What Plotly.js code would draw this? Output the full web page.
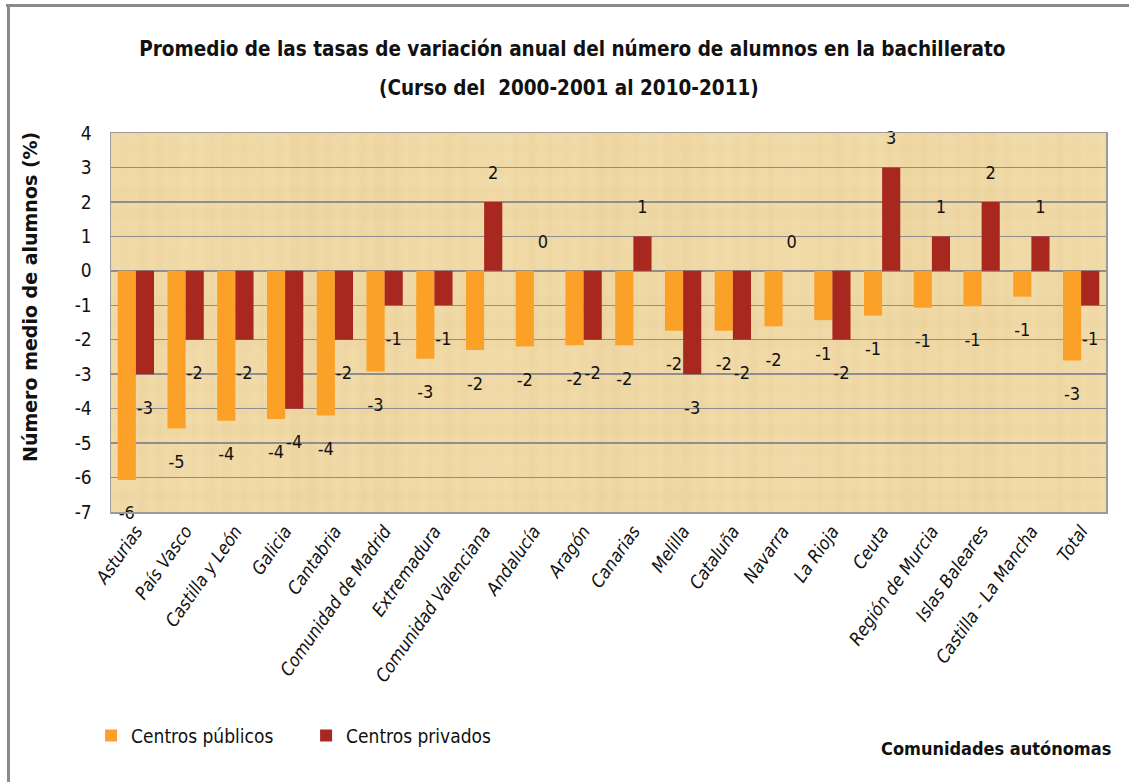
<!DOCTYPE html>
<html>
<head>
<meta charset="utf-8">
<script src="https://cdn.plot.ly/plotly-3.0.1.min.js"></script>
<style>
  html, body { margin: 0; padding: 0; background: #fff; }
  #wrap { position: relative; width: 1129px; height: 782px; overflow: hidden; }
  #chart { position: absolute; left: 0; top: 0; width: 1129px; height: 782px; }
  #btop { position: absolute; left: 6px; top: 4px; width: 1123px; height: 3px; background: #8a8a8a; }
  #bleft { position: absolute; left: 7px; top: 4px; width: 3px; height: 778px; background: #8a8a8a; }
</style>
</head>
<body>
<div id="wrap">
  <div id="chart"></div>
  <div id="btop"></div>
  <div id="bleft"></div>
</div>
<script>
// ---- data ----
const categories = ["Asturias", "País Vasco", "Castilla y León", "Galicia", "Cantabria",
  "Comunidad de Madrid", "Extremadura", "Comunidad Valenciana", "Andalucía", "Aragón",
  "Canarias", "Melilla", "Cataluña", "Navarra", "La Rioja", "Ceuta", "Región de Murcia",
  "Islas Baleares", "Castilla - La Mancha", "Total"];
const publicos = [-6.07, -4.58, -4.35, -4.30, -4.20, -2.92, -2.55, -2.30, -2.20, -2.16,
  -2.16, -1.74, -1.74, -1.61, -1.43, -1.30, -1.07, -1.03, -0.75, -2.60];
const privados = [-3.0, -2.0, -2.0, -4.0, -2.0, -1.0, -1.0, 2.0, 0.0, -2.0,
  1.0, -3.0, -2.0, 0.0, -2.0, 3.0, 1.0, 2.0, 1.0, -1.0];
const yTicks = [-7, -6, -5, -4, -3, -2, -1, 0, 1, 2, 3, 4];
const seriesNames = ["Centros públicos", "Centros privados"];
const titleLine1 = "Promedio de las tasas de variación anual del número de alumnos en la bachillerato";
const titleLine2 = "(Curso del  2000-2001 al 2010-2011)";
const yTitle = "Número medio de alumnos (%)";
const xTitle = "Comunidades autónomas";

const roundLabel = vals => vals.map(v => String(Math.round(v) === 0 ? 0 : Math.round(v)));
const labelPos = vals => vals.map(v => v < 0 ? 'bottom center' : 'top center');
const labelGap = vals => vals.map(v => v < 0 ? 40 : 28);

// ---- papyrus-like background texture (deterministic) ----
function makeTexture(w, h) {
  const c = document.createElement('canvas');
  c.width = w; c.height = h;
  const g = c.getContext('2d');
  g.fillStyle = '#F0D9A6';
  g.fillRect(0, 0, w, h);
  for (let x = 0; x < w; x += 3) {
    const v = Math.sin(x * 0.37) * 0.5 + Math.sin(x * 0.083 + 1.3) * 0.35 + Math.sin(x * 0.021) * 0.3;
    const a = Math.abs(v) * 0.09;
    g.fillStyle = v > 0 ? 'rgba(255,242,205,' + a + ')' : 'rgba(210,178,110,' + a + ')';
    g.fillRect(x, 0, 3, h);
  }
  for (let y = 0; y < h; y += 3) {
    const v = Math.sin(y * 0.29 + 0.7) * 0.5 + Math.sin(y * 0.061) * 0.4;
    const a = Math.abs(v) * 0.05;
    g.fillStyle = v > 0 ? 'rgba(255,242,210,' + a + ')' : 'rgba(205,172,105,' + a + ')';
    g.fillRect(0, y, w, 3);
  }
  return c.toDataURL('image/png');
}

const FONT = '"Liberation Sans Narrow", "DejaVu Sans Condensed", "Liberation Sans", sans-serif';
const series = [publicos, privados];
const colors = ['#FBA127', '#A8281F'];

const traces = [];
series.forEach((vals, i) => {
  traces.push({
    type: 'bar', name: seriesNames[i], x: categories, y: vals,
    marker: { color: colors[i] }, hoverinfo: 'x+y'
  });
});
series.forEach((vals, i) => {
  traces.push({
    type: 'scatter', mode: 'markers+text', showlegend: false, name: seriesNames[i],
    x: categories, y: vals, text: roundLabel(vals), textposition: labelPos(vals),
    marker: { size: labelGap(vals), color: 'rgba(0,0,0,0)', opacity: 0,
              line: { width: 0, color: 'rgba(0,0,0,0)' } },
    cliponaxis: false,
    textfont: { family: FONT, size: 18, color: '#111' }, hoverinfo: 'skip'
  });
});

const layout = {
  width: 1129, height: 782,
  margin: { l: 111, r: 23, t: 133, b: 270 },
  paper_bgcolor: '#ffffff',
  plot_bgcolor: '#F0D9A6',
  font: { family: FONT, color: '#111' },
  barmode: 'group', bargap: 0.27, bargroupgap: 0,
  scattermode: 'group', scattergap: 0.27,
  title: {
    text: '<b>' + titleLine1 + '</b>',
    font: { family: FONT, size: 20.5, color: '#111' },
    x: 0.507, xanchor: 'center', y: 0.938, yanchor: 'middle', yref: 'container'
  },
  xaxis: {
    type: 'category',
    tickangle: -55,
    tickfont: { family: FONT, size: 18, color: '#111', style: 'italic' },
    showline: true, linecolor: '#9a9a9a', linewidth: 1.5, mirror: true,
    ticks: '', showgrid: false, fixedrange: true
  },
  yaxis: {
    range: [-7, 4], tickvals: yTicks, ticktext: yTicks.map(String),
    tickfont: { family: FONT, size: 19, color: '#111' },
    showgrid: true, gridcolor: '#8e8e8e', gridwidth: 1.5,
    zeroline: true, zerolinecolor: '#8e8e8e', zerolinewidth: 1.5,
    showline: true, linecolor: '#9a9a9a', linewidth: 1.5, mirror: true,
    ticks: 'outside', ticklen: 14, tickcolor: 'rgba(0,0,0,0)', fixedrange: true
  },
  legend: {
    orientation: 'h', x: -0.02, xanchor: 'left', y: -0.59, yanchor: 'middle',
    font: { family: FONT, size: 19, color: '#111' },
    entrywidth: 170, itemwidth: 30, traceorder: 'normal'
  },
  images: [{
    source: makeTexture(995, 379), xref: 'paper', yref: 'paper',
    x: 0, y: 1, sizex: 1, sizey: 1, xanchor: 'left', yanchor: 'top',
    sizing: 'stretch', layer: 'below'
  }],
  annotations: [
    {
      text: '<b>' + titleLine2 + '</b>', xref: 'paper', yref: 'paper',
      x: 0.46, y: 1.0 + (133 - 88) / 379, xanchor: 'center', yanchor: 'middle',
      showarrow: false, font: { family: FONT, size: 20.5, color: '#111' }
    },
    {
      text: '<b>' + yTitle + '</b>', xref: 'paper', yref: 'paper',
      x: (30 - 111) / 995, y: (512 - 297) / 379, xanchor: 'center', yanchor: 'middle',
      textangle: -90, showarrow: false,
      font: { family: '"DejaVu Sans", sans-serif', size: 19, color: '#111' }
    },
    {
      text: '<b>' + xTitle + '</b>', xref: 'paper', yref: 'paper',
      x: (1113 - 111) / 995, y: (512 - 748) / 379, xanchor: 'right', yanchor: 'middle',
      showarrow: false, font: { family: FONT, size: 18, color: '#111' }
    }
  ]
};

Plotly.newPlot('chart', traces, layout, { displayModeBar: false, staticPlot: true });
</script>
</body>
</html>
